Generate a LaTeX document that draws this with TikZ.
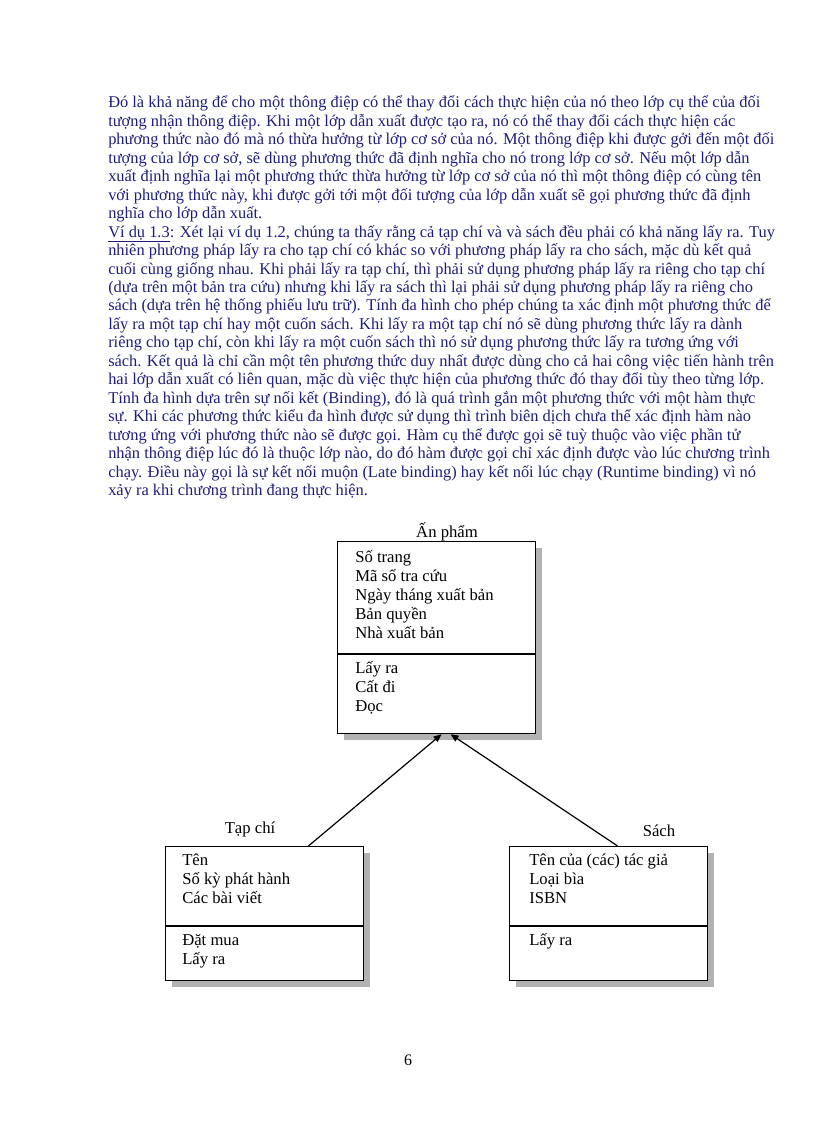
\documentclass[tikz,border=0pt]{standalone}
\usepackage{fontspec}
\setmainfont{Liberation Serif}
\usetikzlibrary{calc,arrows.meta}
\definecolor{navy}{RGB}{30,30,120}
\begin{document}
\begin{tikzpicture}[x=0.75pt,y=-0.75pt,
  para/.style={anchor=base west,inner sep=0,text=navy,font=\fontsize{12.3}{14}\selectfont},
  lbl/.style={anchor=base west,inner sep=0,font=\fontsize{12.5}{14}\selectfont},
  ttl/.style={anchor=base,inner sep=0,font=\fontsize{12.5}{14}\selectfont},
  classbox/.style={draw,line width=0.9pt,fill=white,inner sep=0,anchor=north west,minimum width=148.5pt},
  shadowbox/.style={fill=gray!60,inner sep=0,anchor=north west,minimum width=148.5pt},
  inh/.style={line width=0.9pt,-{Triangle[length=6pt,width=5pt]}}]
\useasboundingbox (0,0) rectangle (816,1123);
% paragraph
\foreach \t [count=\i] in {
{Đó là khả năng để cho một thông điệp có thể thay đổi cách thực hiện của nó theo lớp cụ thể của đối},
{tượng nhận thông điệp. Khi một lớp dẫn xuất được tạo ra, nó có thể thay đổi cách thực hiện các},
{phương thức nào đó mà nó thừa hưởng từ lớp cơ sở của nó. Một thông điệp khi được gởi đến một đối},
{tượng của lớp cơ sở, sẽ dùng phương thức đã định nghĩa cho nó trong lớp cơ sở. Nếu một lớp dẫn},
{xuất định nghĩa lại một phương thức thừa hưởng từ lớp cơ sở của nó thì một thông điệp có cùng tên},
{với phương thức này, khi được gởi tới một đối tượng của lớp dẫn xuất sẽ gọi phương thức đã định},
{nghĩa cho lớp dẫn xuất.},
{\underline{Ví dụ 1.3}: Xét lại ví dụ 1.2, chúng ta thấy rằng cả tạp chí và và sách đều phải có khả năng lấy ra. Tuy},
{nhiên phương pháp lấy ra cho tạp chí có khác so với phương pháp lấy ra cho sách, mặc dù kết quả},
{cuối cùng giống nhau. Khi phải lấy ra tạp chí, thì phải sử dụng phương pháp lấy ra riêng cho tạp chí},
{(dựa trên một bản tra cứu) nhưng khi lấy ra sách thì lại phải sử dụng phương pháp lấy ra riêng cho},
{sách (dựa trên hệ thống phiếu lưu trữ). Tính đa hình cho phép chúng ta xác định một phương thức để},
{lấy ra một tạp chí hay một cuốn sách. Khi lấy ra một tạp chí nó sẽ dùng phương thức lấy ra dành},
{riêng cho tạp chí, còn khi lấy ra một cuốn sách thì nó sử dụng phương thức lấy ra tương ứng với},
{sách. Kết quả là chỉ cần một tên phương thức duy nhất được dùng cho cả hai công việc tiến hành trên},
{hai lớp dẫn xuất có liên quan, mặc dù việc thực hiện của phương thức đó thay đổi tùy theo từng lớp.},
{Tính đa hình dựa trên sự nối kết (Binding), đó là quá trình gắn một phương thức với một hàm thực},
{sự. Khi các phương thức kiểu đa hình được sử dụng thì trình biên dịch chưa thể xác định hàm nào},
{tương ứng với phương thức nào sẽ được gọi. Hàm cụ thể được gọi sẽ tuỳ thuộc vào việc phần tử},
{nhận thông điệp lúc đó là thuộc lớp nào, do đó hàm được gọi chỉ xác định được vào lúc chương trình},
{chạy. Điều này gọi là sự kết nối muộn (Late binding) hay kết nối lúc chạy (Runtime binding) vì nó},
{xảy ra khi chương trình đang thực hiện.}}
  \node[para] (p\i) at (108,{108+(\i-1)*18.45}) {\t};
% shadows
\node[shadowbox,minimum height=144pt] (pubs) at (344,548) {};
\node[shadowbox,minimum height=100.5pt] (taps) at (172,853) {};
\node[shadowbox,minimum height=100.5pt] (sachs) at (516,853) {};
% boxes
\node[classbox,minimum height=144pt] (pub) at (337,541) {};
\node[classbox,minimum height=100.5pt] (tap) at (165,846) {};
\node[classbox,minimum height=100.5pt] (sach) at (509,846) {};
\draw[line width=0.9pt] (337,654) -- (535,654);
\draw[line width=0.9pt] (165,926) -- (363,926);
\draw[line width=0.9pt] (509,926) -- (707,926);
% titles
\node[ttl] (tpub) at (447,537) {Ấn phẩm};
\node[ttl] (ttap) at (250,833) {Tạp chí};
\node[ttl] (tsach) at (659,836) {Sách};
% labels
\node[lbl] (a1) at (355,562) {Số trang};
\node[lbl] (a2) at (355,581) {Mã số tra cứu};
\node[lbl] (a3) at (355,600) {Ngày tháng xuất bản};
\node[lbl] (a4) at (355,619) {Bản quyền};
\node[lbl] (a5) at (355,638) {Nhà xuất bản};
\node[lbl] (m1) at (355,673) {Lấy ra};
\node[lbl] (m2) at (355,692) {Cất đi};
\node[lbl] (m3) at (355,711) {Đọc};
\node[lbl] (b1) at (182,865) {Tên};
\node[lbl] (b2) at (182,884) {Số kỳ phát hành};
\node[lbl] (b3) at (182,903) {Các bài viết};
\node[lbl] (n1) at (182,945) {Đặt mua};
\node[lbl] (n2) at (182,964) {Lấy ra};
\node[lbl] (c1) at (529,865) {Tên của (các) tác giả};
\node[lbl] (c2) at (529,884) {Loại bìa};
\node[lbl] (c3) at (529,903) {ISBN};
\node[lbl] (k1) at (529,945) {Lấy ra};
% connectors
\draw[inh] ($(tap.north west)!0.72!(tap.north east)$) -- ($(pub.south west)!0.525!(pub.south east)$);
\draw[inh] ($(sach.north west)!0.545!(sach.north east)$) -- ($(pub.south west)!0.57!(pub.south east)$);
% page number
\node[anchor=base,inner sep=0,font=\fontsize{12}{14}\selectfont] (pg) at (408,1065) {6};
\end{tikzpicture}
\end{document}
